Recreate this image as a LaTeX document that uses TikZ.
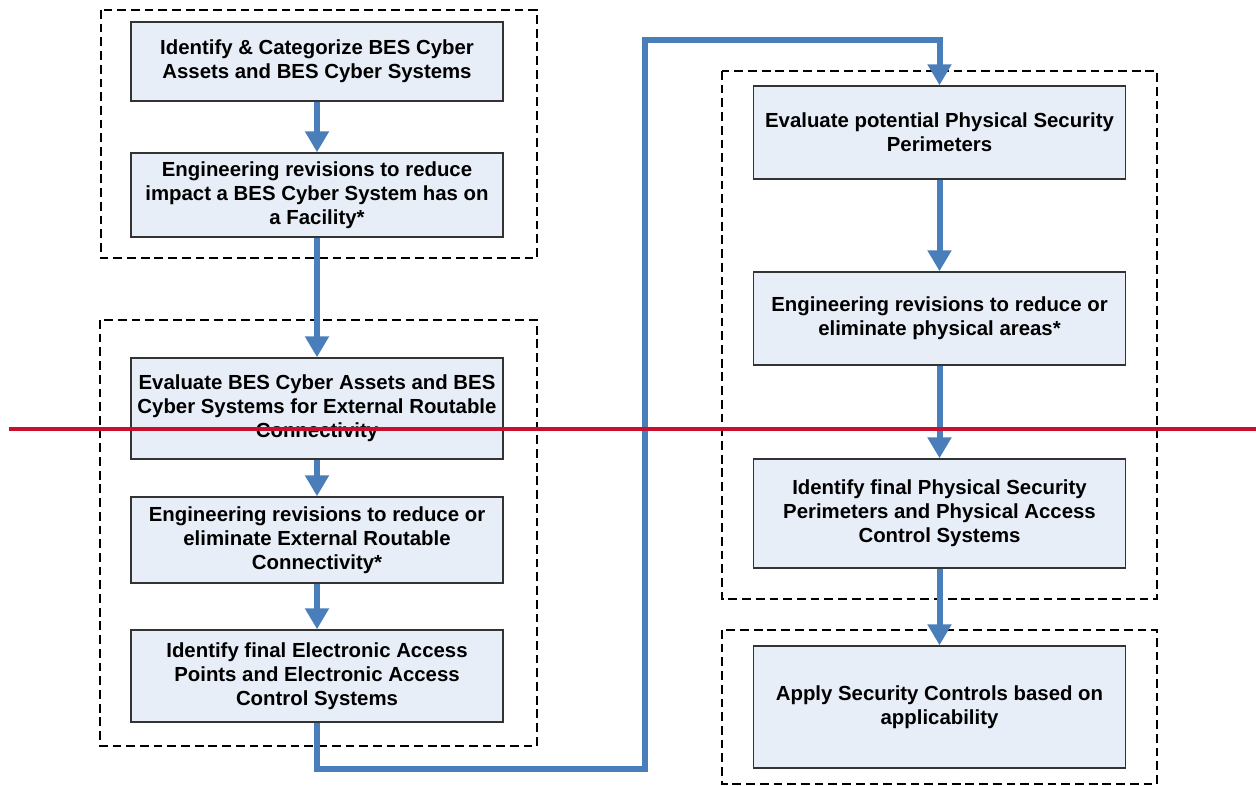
\documentclass[tikz,border=0pt]{standalone}
\usepackage{fontspec}
\setmainfont{Liberation Sans}
\usepackage{xcolor}
\usepackage{tikz}
\usetikzlibrary{arrows.meta}
\definecolor{flowblue}{HTML}{4A7EBB}
\definecolor{boxfill}{HTML}{E8EEF7}
\definecolor{boxline}{HTML}{333333}
\definecolor{markred}{HTML}{C8102E}
\tikzset{stepbox/.style={rectangle,draw=boxline,line width=0.85pt,fill=boxfill,minimum width=7.44cm,align=center,inner sep=0.1cm,font=\fontsize{11.6}{13.6}\selectfont\bfseries}}
\tikzset{group/.style={draw=black,line width=0.6pt,dash pattern=on 5pt off 2.8pt}}
\tikzset{flow/.style={draw=flowblue,line width=3.4pt,-{Triangle[width=0.46cm,length=0.42cm]}}}

\begin{document}
\begin{tikzpicture}[x=0.02cm,y=-0.02cm]
        \useasboundingbox[fill=white] (0,0) rectangle (1256,786);

        \draw[group] (101,10) rectangle (537,258);
        \draw[group] (100,320) rectangle (537,746);
        \draw[group] (722,71) rectangle (1157,599);
        \draw[group] (722,630) rectangle (1157,784);

        \node[stepbox,minimum height=1.58cm] (ident) at (317,61.5) {Identify \& Categorize BES Cyber\\Assets and BES Cyber Systems};
        \node[stepbox,minimum height=1.68cm] (engfac) at (317,195) {Engineering revisions to reduce\\impact a BES Cyber System has on\\a Facility*};
        \node[stepbox,minimum height=2.02cm] (evalerc) at (317,408.5) {Evaluate BES Cyber Assets and BES\\Cyber Systems for External Routable\\Connectivity};
        \node[stepbox,minimum height=1.72cm] (engerc) at (317,540) {Engineering revisions to reduce or\\eliminate External Routable\\Connectivity*};
        \node[stepbox,minimum height=1.84cm] (eap) at (317,676) {Identify final Electronic Access\\Points and Electronic Access\\Control Systems};

        \node[stepbox,minimum height=1.86cm] (evalpsp) at (939.5,132.5) {Evaluate potential Physical Security\\Perimeters};
        \node[stepbox,minimum height=1.86cm] (engphys) at (939.5,318.5) {Engineering revisions to reduce or\\eliminate physical areas*};
        \node[stepbox,minimum height=2.18cm] (psp) at (939.5,513.5) {Identify final Physical Security\\Perimeters and Physical Access\\Control Systems};
        \node[stepbox,minimum height=2.44cm] (apply) at (939.5,707) {Apply Security Controls based on\\applicability};

        \coordinate (low) at (645,769);
        \coordinate (high) at (645,40);

        \draw[flow] (ident) -- (engfac);
        \draw[flow] (engfac) -- (evalerc);
        \draw[flow] (evalerc) -- (engerc);
        \draw[flow] (engerc) -- (eap);
        \draw[flow] (eap.south) |- (low) -- (high) -| (evalpsp.north);
        \draw[flow] (evalpsp) -- (engphys);
        \draw[flow] (engphys) -- (psp);
        \draw[flow] (psp) -- (apply);

        \draw[markred,line width=2pt] (9,429) -- (1256,429);
    \end{tikzpicture}
\end{document}
